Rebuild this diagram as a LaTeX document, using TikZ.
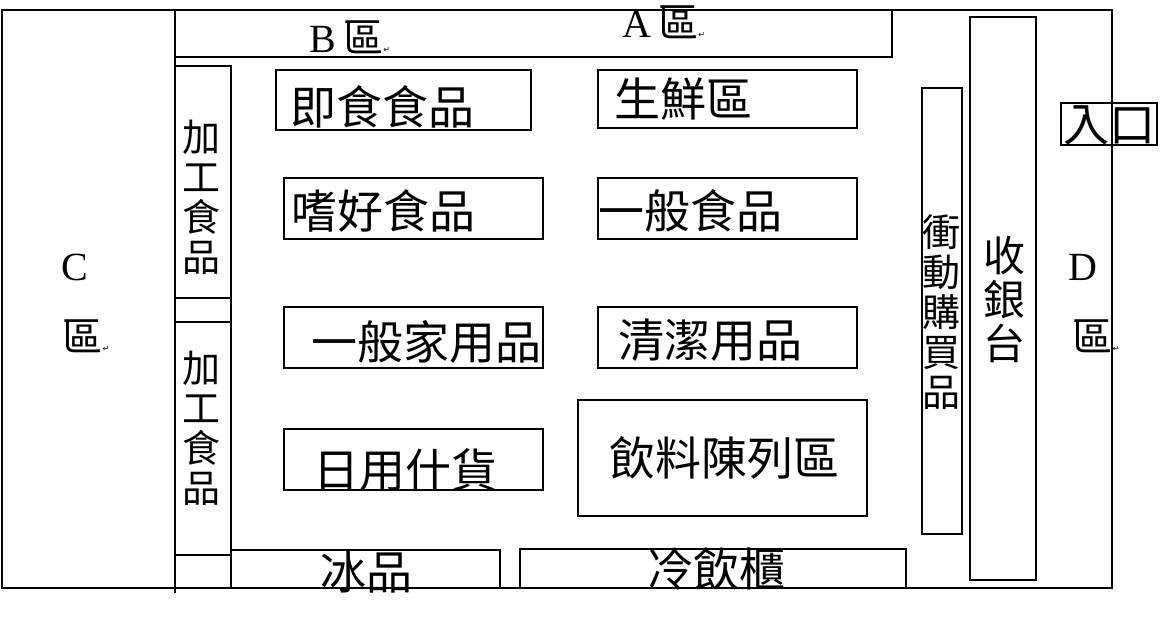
\documentclass[tikz,border=0pt]{standalone}
\usepackage{fontspec}
\setmainfont{Liberation Serif}
\newfontfamily\cjk{Noto Sans CJK TC}
\newfontfamily\symf{DejaVu Sans}
\newcommand{\ret}{{\symf\fontsize{8}{8}\selectfont ↵}}
\tikzset{
  zone/.style={draw, line width=1.3pt},
  shelf/.style={draw, line width=1.3pt},
  lab/.style={font=\cjk\fontsize{46}{50}\selectfont, inner sep=0pt},
  vlab/.style={font=\cjk\fontsize{38}{40}\selectfont, align=center, inner sep=0pt},
  zlab/.style={font=\fontsize{40}{44}\selectfont, inner sep=0pt}
}
\begin{document}
\begin{tikzpicture}[x=1pt,y=-1pt]
\useasboundingbox (0,0) rectangle (1165,621);
% outer walls
\draw[zone] (2,10) rectangle (1112,588);
\draw[zone] (175,10) -- (175,593);
\draw[zone] (175,10) rectangle (892,57);
% zone labels
\node[zlab] (zb) at (350,37) {B\,{\cjk 區}\ret};
\node[zlab] (za) at (664,22) {A\,{\cjk 區}\ret};
\node[zlab] (zc) at (75,267) {C};
\node[zlab] (zc2) at (86,336) {{\cjk 區}\ret};
\node[zlab] (zd) at (1083,267) {D};
\node[zlab] (zd2) at (1096,336) {{\cjk 區}\ret};
% left column
\draw[shelf] (175,66) rectangle (231,588);
\draw[shelf] (175,298) -- (231,298);
\draw[shelf] (175,322) -- (231,322);
\draw[shelf] (175,555) -- (231,555);
\node[vlab] (jg1) at (201,197) {加\\工\\食\\品};
\node[vlab] (jg2) at (201,428) {加\\工\\食\\品};
% shelves
\draw[shelf] (276,70) rectangle (531,130);
\node[lab] (jishi) at (382,107) {即食食品};
\draw[shelf] (598,70) rectangle (857,128);
\node[lab] (shengxian) at (683,99) {生鮮區};
\draw[shelf] (284,178) rectangle (543,239);
\node[lab] (shihao) at (383,211) {嗜好食品};
\draw[shelf] (598,178) rectangle (857,239);
\node[lab] (yiban) at (690,211) {一般食品};
\draw[shelf] (284,307) rectangle (543,368);
\node[lab] (jiayong) at (426,342) {一般家用品};
\draw[shelf] (598,307) rectangle (857,368);
\node[lab] (qingjie) at (710,340) {清潔用品};
\draw[shelf] (284,429) rectangle (543,490);
\node[lab] (riyong) at (405,470) {日用什貨};
\draw[shelf] (578,400) rectangle (867,516);
\node[lab] (yinliao) at (724,458) {飲料陳列區};
\draw[shelf] (231,550) rectangle (500,588);
\node[lab] (bing) at (366,572) {冰品};
\draw[shelf] (520,549) rectangle (906,588);
\node[lab] (lengyin) at (716,569) {冷飲櫃};
% right side
\draw[shelf] (922,88) rectangle (962,534);
\node[vlab] (chongdong) at (941,312) {衝\\動\\購\\買\\品};
\draw[shelf] (970,17) rectangle (1036,580);
\node[vlab, font=\cjk\fontsize{42}{44}\selectfont] (shouyin) at (1004,300) {收\\銀\\台};
\draw[shelf] (1061,103) rectangle (1157,145);
\node[lab] (rukou) at (1109,125) {入口};
\end{tikzpicture}
\end{document}
